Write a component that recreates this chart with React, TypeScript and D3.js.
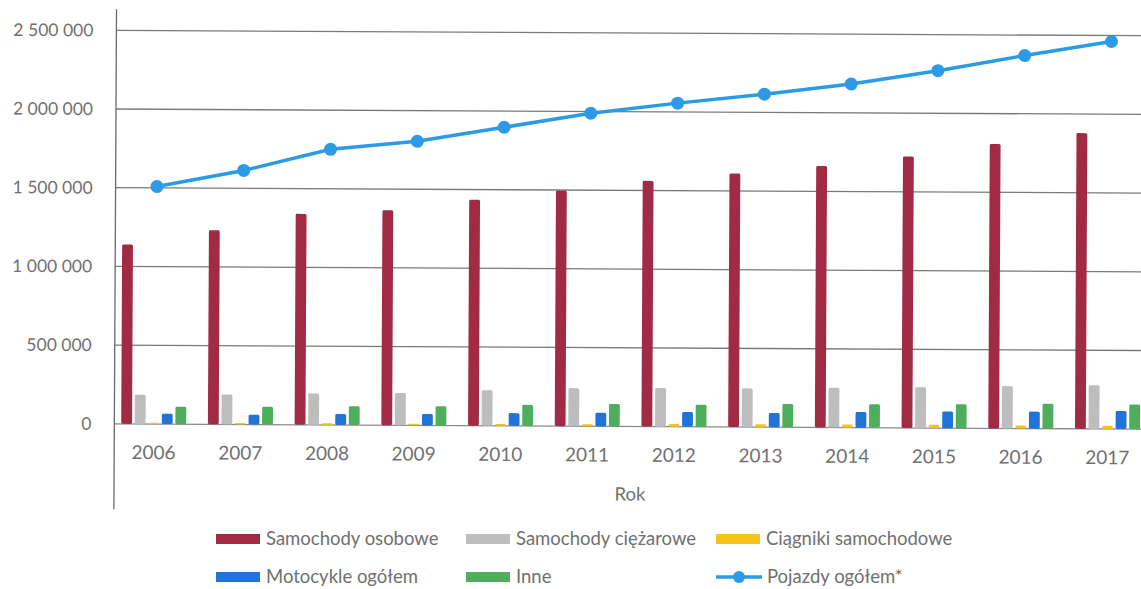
import React, { useEffect, useRef } from "react";
import * as d3 from "d3";

const years = ["2006", "2007", "2008", "2009", "2010", "2011", "2012", "2013", "2014", "2015", "2016", "2017"];

const samochodyOsobowe = [1139000, 1233000, 1340000, 1366000, 1436000, 1497000, 1561000, 1611000, 1661000, 1724000, 1807000, 1879000];
const samochodyCiezarowe = [186000, 190000, 200000, 205000, 225000, 242000, 245000, 246000, 253000, 259000, 269000, 277000];
const ciagnikiSamochodowe = [8000, 9000, 10000, 10000, 11000, 13000, 17000, 19000, 20000, 21000, 19000, 21000];
const motocykleOgolem = [66000, 62000, 70000, 73000, 81000, 87000, 94000, 91000, 100000, 106000, 108000, 115000];
const inne = [110000, 113000, 120000, 122000, 134000, 142000, 141000, 148000, 150000, 153000, 159000, 157000];
const pojazdyOgolem = [1509000, 1614000, 1751000, 1805000, 1897000, 1989000, 2056000, 2116000, 2183000, 2271000, 2370000, 2462000];

const barSeriesNames = ["Samochody osobowe", "Samochody ciężarowe", "Ciągniki samochodowe", "Motocykle ogółem", "Inne"];
const lineSeriesName = "Pojazdy ogółem*";
const yTicks = [0, 500000, 1000000, 1500000, 2000000, 2500000];
const xTitle = "Rok";

const colors = ["#a12a44", "#bdbdbd", "#f6c21c", "#1f74d6", "#4fae5b"];
const lineColor = "#2c9ae4";

const App = () => {
  const svgRef = useRef<SVGSVGElement>(null);

  useEffect(() => {
    const width = 1141;
    const height = 589;
    const font = "Lato, 'Open Sans', sans-serif";
    const textColor = "#707070";

    const svg = d3.select(svgRef.current).attr("width", width).attr("height", height);
    svg.selectAll("*").remove();

    // the scan is a little tilted, so the plot is rotated a bit
    const root = svg.append("g").attr("transform", "rotate(0.3 630 300)");

    const barData = [samochodyOsobowe, samochodyCiezarowe, ciagnikiSamochodowe, motocykleOgolem, inne];

    const x = d3.scaleBand().domain(years).range([111, 1151.5]);
    const xInner = d3.scaleBand().domain(d3.range(barData.length).map(String)).range([0, 65]).paddingInner(0.2);
    const y = d3.scaleLinear().domain([0, 2500000]).range([426.5, 33]);

    // grid lines
    root.append("g")
      .selectAll("line")
      .data(yTicks)
      .enter()
      .append("line")
      .attr("x1", 115)
      .attr("x2", width + 10)
      .attr("y1", d => y(d))
      .attr("y2", d => y(d))
      .attr("stroke", d => d === 0 ? "#8a8a8a" : "#7a7a7a")
      .attr("stroke-width", 1.3);

    // vertical axis line
    root.append("line")
      .attr("x1", 115).attr("x2", 115)
      .attr("y1", 12).attr("y2", 512)
      .attr("stroke", "#6a6a6a")
      .attr("stroke-width", 1.3);

    // y tick labels
    const fmt = (v: number) => d3.format(",")(v).replace(/,/g, " ");
    root.append("g")
      .selectAll("text")
      .data(yTicks)
      .enter()
      .append("text")
      .attr("x", 92)
      .attr("y", d => y(d))
      .attr("dy", "0.35em")
      .attr("text-anchor", "end")
      .attr("font-family", font)
      .attr("font-size", 17.5)
      .attr("fill", textColor)
      .text(d => fmt(d));

    // bars
    barData.forEach((values, si) => {
      root.append("g")
        .selectAll("rect")
        .data(values)
        .enter()
        .append("rect")
        .attr("x", (d, i) => (x(years[i]) as number) + x.bandwidth() / 2 - 32.5 + (xInner(String(si)) as number))
        .attr("y", d => y(d))
        .attr("width", xInner.bandwidth())
        .attr("height", d => y(0) - y(d))
        .attr("rx", 1.5)
        .attr("fill", colors[si]);
    });

    // total line
    const line = d3.line<number>()
      .x((d, i) => (x(years[i]) as number) + x.bandwidth() / 2 + 2)
      .y(d => y(d));

    root.append("path")
      .datum(pojazdyOgolem)
      .attr("d", line)
      .attr("fill", "none")
      .attr("stroke", lineColor)
      .attr("stroke-width", 3.5);

    root.append("g")
      .selectAll("circle")
      .data(pojazdyOgolem)
      .enter()
      .append("circle")
      .attr("cx", (d, i) => (x(years[i]) as number) + x.bandwidth() / 2 + 2)
      .attr("cy", d => y(d))
      .attr("r", 6.5)
      .attr("fill", lineColor);

    // x tick labels
    root.append("g")
      .selectAll("text")
      .data(years)
      .enter()
      .append("text")
      .attr("x", d => (x(d) as number) + x.bandwidth() / 2)
      .attr("y", 455)
      .attr("dy", "0.35em")
      .attr("text-anchor", "middle")
      .attr("font-family", font)
      .attr("font-size", 19)
      .attr("fill", textColor)
      .text(d => d);

    root.append("text")
      .attr("x", 631)
      .attr("y", 494)
      .attr("dy", "0.35em")
      .attr("text-anchor", "middle")
      .attr("font-family", font)
      .attr("font-size", 18.5)
      .attr("fill", textColor)
      .text(xTitle);

    // legend (kept level)
    const legendCols = [216, 466, 716];
    const legendRows = [539, 577];
    const legend = svg.append("g");
    barSeriesNames.forEach((name, i) => {
      const lx = legendCols[i % 3];
      const ly = legendRows[Math.floor(i / 3)];
      legend.append("rect")
        .attr("x", lx).attr("y", ly - 5)
        .attr("width", 44).attr("height", 10)
        .attr("fill", colors[i]);
      legend.append("text")
        .attr("x", lx + 50).attr("y", ly)
        .attr("dy", "0.35em")
        .attr("font-family", font)
        .attr("font-size", 18.5)
        .attr("fill", textColor)
        .text(name);
    });
    const lx = legendCols[2];
    const ly = legendRows[1];
    legend.append("line")
      .attr("x1", lx).attr("x2", lx + 46)
      .attr("y1", ly).attr("y2", ly)
      .attr("stroke", lineColor)
      .attr("stroke-width", 3.5);
    legend.append("circle")
      .attr("cx", lx + 23).attr("cy", ly)
      .attr("r", 6)
      .attr("fill", lineColor);
    legend.append("text")
      .attr("x", lx + 51).attr("y", ly)
      .attr("dy", "0.35em")
      .attr("font-family", font)
      .attr("font-size", 18.5)
      .attr("fill", textColor)
      .text(lineSeriesName);
  }, []);

  return (
    <svg
      ref={svgRef}
      style={{ position: "absolute", left: 0, top: 0, background: "#ffffff" }}
    ></svg>
  );
};

export default App;
